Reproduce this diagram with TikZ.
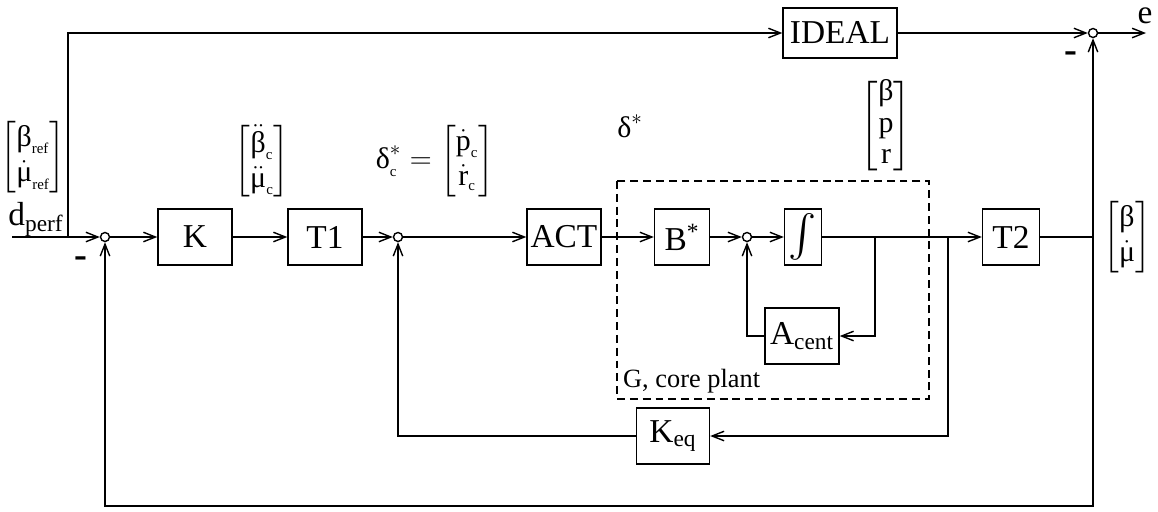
\documentclass[tikz,border=0pt]{standalone}
\usepackage{amsmath,amssymb}
\usepackage{fontspec}
\setmainfont{Liberation Serif}
\usetikzlibrary{arrows.meta,positioning}

\newcommand{\gr}[1]{\text{#1}}
\newcommand{\tsub}[1]{_{\scriptscriptstyle\text{#1}}}

\begin{document}
\begin{tikzpicture}[
    x=0.02cm, y=-0.02cm,
    font=\fontsize{19}{22}\selectfont,
    blk/.style={draw, thick, inner sep=0pt, minimum width=1.48cm, minimum height=1.12cm},
    sum/.style={draw, thick, circle, inner sep=0pt, minimum size=0.18cm},
    arr/.style={-{Straight Barb[length=2.4mm,width=1.9mm]}, thick},
    wire/.style={thick},
    vec/.style={font=\fontsize{17}{20}\selectfont},
    sgn/.style={font=\fontsize{22}{22}\selectfont\bfseries},
  ]
  \useasboundingbox (0,0) rectangle (1158,511);

  % main loop blocks
  \node[sum] (sum1) at (105,237) {};
  \node[blk] (K) at (195,237) {K};
  \node[blk] (T1) at (325,237) {T1};
  \node[sum] (sum2) at (398,237) {};
  \node[blk] (ACT) at (564,237) {ACT};
  \node[blk, minimum width=1.1cm] (Bstar) at (682,237) {B\textsuperscript{*}};
  \node[sum] (sum3) at (747,237) {};
  \node[blk, minimum width=0.74cm] (integ) at (803,237) {\fontsize{24}{26}\selectfont$\int$};
  \node[blk] (Acent) at (802,336) {A\textsubscript{cent}};
  \node[blk, minimum width=1.14cm] (T2) at (1011,237) {T2};
  \node[blk, minimum width=1.46cm] (Keq) at (673,436) {K\textsubscript{eq}};
  \node[blk, minimum width=2.28cm, minimum height=1.0cm] (IDEAL) at (840,33) {IDEAL};
  \node[sum] (sum4) at (1093,33) {};

  \coordinate (in) at (12,237);
  \coordinate (split) at (68,237);
  \coordinate (out) at (1146,33);
  \coordinate (tapA) at (875,237);
  \coordinate (tapK) at (948,237);
  \coordinate (tapY) at (1093,237);
  \coordinate (fb) at (1093,506);

  % core plant
  \draw[thick, dash pattern=on 4.5pt off 2.8pt] (617,181) rectangle (929,399);
  \node[anchor=west, font=\fontsize{15}{17}\selectfont] (plant) at (617,381) {G, core plant};

  % signal flow
  \draw[arr] (in) -- (sum1);
  \draw[arr] (split) |- (IDEAL);
  \draw[arr] (sum1) -- (K);
  \draw[arr] (K) -- (T1);
  \draw[arr] (T1) -- (sum2);
  \draw[arr] (sum2) -- (ACT);
  \draw[arr] (ACT) -- (Bstar);
  \draw[arr] (Bstar) -- (sum3);
  \draw[arr] (sum3) -- (integ);
  \draw[arr] (integ) -- (T2);
  \draw[arr] (tapA) |- (Acent);
  \draw[arr] (Acent) -| (sum3);
  \draw[arr] (tapK) |- (Keq);
  \draw[arr] (Keq) -| (sum2);
  \draw[wire] (T2) -- (tapY);
  \draw[arr] (tapY) -- (sum4);
  \draw[arr] (tapY) -- (fb) -| (sum1);
  \draw[arr] (IDEAL) -- (sum4);
  \draw[arr] (sum4) -- (out);

  % signal labels
  \node (dperf) at (36,219) {d\textsubscript{perf}};
  \node[vec, inner sep=1pt] (refv) at (33,157)
    {$\begin{bmatrix}\gr{β}\tsub{ref}\\ \dot{\gr{μ}}\tsub{ref}\end{bmatrix}$};
  \node[vec] (accv) at (262,161)
    {$\begin{bmatrix}\ddot{\gr{β}}\tsub{c}\\ \ddot{\gr{μ}}\tsub{c}\end{bmatrix}$};
  \node[vec] (deltac) at (435,161)
    {$\gr{δ}^*\tsub{c}=\begin{bmatrix}\dot{\gr{p}}\tsub{c}\\ \dot{\gr{r}}\tsub{c}\end{bmatrix}$};
  \node[vec] (delta) at (630,126) {$\gr{δ}^*$};
  \node[vec] (stv) at (886,126)
    {$\renewcommand{\arraystretch}{0.9}\begin{bmatrix}\gr{β}\\ \gr{p}\\ \gr{r}\end{bmatrix}$};
  \node[vec] (yv) at (1127,237) {$\begin{bmatrix}\gr{β}\\ \dot{\gr{μ}}\end{bmatrix}$};
  \node[inner sep=0pt] (e) at (1145,16) {e};
  \node[sgn] (m1) at (81,262) {-};
  \node[sgn] (m2) at (1071,57) {-};
\end{tikzpicture}
\end{document}
